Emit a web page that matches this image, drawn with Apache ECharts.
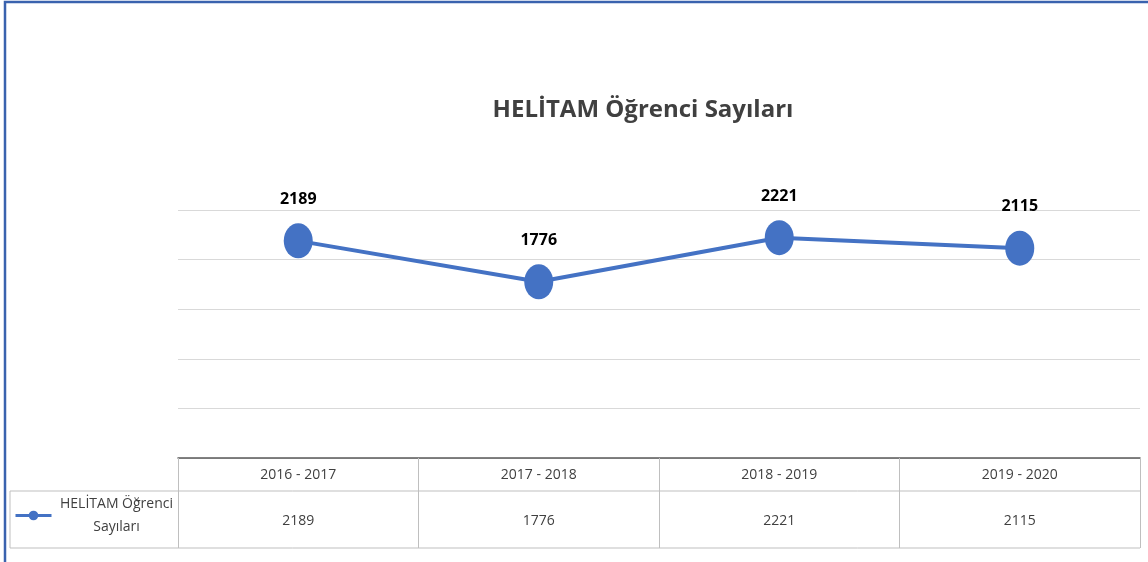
<!DOCTYPE html>
<html>
<head>
<meta charset="utf-8">
<script src="https://cdn.jsdelivr.net/npm/echarts@6/dist/echarts.min.js"></script>
<style>
  html, body { margin: 0; padding: 0; background: #fff; }
  #main { width: 1148px; height: 562px; }
</style>
</head>
<body>
<div id="main"></div>
<script>
var seriesName = 'HELİTAM Öğrenci Sayıları';
var years = ['2016 - 2017', '2017 - 2018', '2018 - 2019', '2019 - 2020'];
var students = [2189, 1776, 2221, 2115];
var yTicks = [0, 500, 1000, 1500, 2000, 2500];

var myChart = echarts.init(document.getElementById('main'));
var font = '"Open Sans", "Noto Sans", sans-serif';

// table lines (layout only)
var gLeft = 178, gRight = 1140, axisY = 458, rowY = 491, tableBottom = 548;
var lineStyle = { stroke: '#bfbfbf', lineWidth: 1 };

var option = {
    animation: false,
    backgroundColor: '#fff',
    title: {
        text: seriesName,
        left: 638,
        top: 93,
        textAlign: 'center',
        textStyle: { color: '#404040', fontSize: 24, fontWeight: 'bold', fontFamily: font }
    },
    legend: {
        left: 14,
        top: 497,
        padding: 0,
        itemWidth: 36,
        itemHeight: 12,
        itemGap: 0,
        lineStyle: { width: 3 },
        formatter: function () {
            return '{a|HELİTAM Öğrenci}\n{a|Sayıları}';
        },
        textStyle: {
            fontFamily: font,
            rich: {
                a: { width: 120, align: 'center', fontSize: 14, lineHeight: 23, color: '#404040', fontFamily: font }
            }
        }
    },
    grid: { left: gLeft, right: 1148 - gRight, top: 210, bottom: 562 - axisY },
    xAxis: {
        type: 'category',
        data: years,
        boundaryGap: true,
        axisLine: { lineStyle: { color: '#595959', width: 1.5 } },
        axisTick: { show: true, length: tableBottom - axisY, interval: 0, lineStyle: { color: '#bfbfbf' } },
        axisLabel: {
            interval: 0,
            margin: 0,
            formatter: function (v, i) {
                return '{h|' + v + '}\n{v|' + students[i] + '}';
            },
            rich: {
                h: { lineHeight: 34, fontSize: 14, color: '#404040', fontFamily: font },
                v: { lineHeight: 58, fontSize: 14, color: '#404040', fontFamily: font }
            }
        }
    },
    yAxis: {
        type: 'value',
        min: yTicks[0],
        max: yTicks[yTicks.length - 1],
        interval: yTicks[1] - yTicks[0],
        axisLabel: { show: false },
        axisLine: { show: false },
        axisTick: { show: false },
        splitLine: { lineStyle: { color: '#d9d9d9', width: 1 } }
    },
    series: [{
        name: seriesName,
        type: 'line',
        data: students,
        symbol: 'circle',
        symbolSize: [29, 35],
        itemStyle: { color: '#4472C4' },
        lineStyle: { color: '#4472C4', width: 4 },
        label: {
            show: true,
            position: 'top',
            distance: 16,
            color: '#000',
            fontSize: 16,
            fontWeight: 'bold',
            fontFamily: font
        }
    }],
    graphic: [
        { type: 'rect', shape: { x: 5, y: 2, width: 1160, height: 600 }, style: { fill: null, stroke: '#3A62AE', lineWidth: 2.5 } },
        { type: 'line', shape: { x1: 10, y1: rowY, x2: gRight, y2: rowY }, style: lineStyle },
        { type: 'line', shape: { x1: 10, y1: tableBottom, x2: gRight, y2: tableBottom }, style: lineStyle },
        { type: 'line', shape: { x1: 10, y1: rowY, x2: 10, y2: tableBottom }, style: lineStyle }
    ]
};
myChart.setOption(option);
</script>
</body>
</html>
